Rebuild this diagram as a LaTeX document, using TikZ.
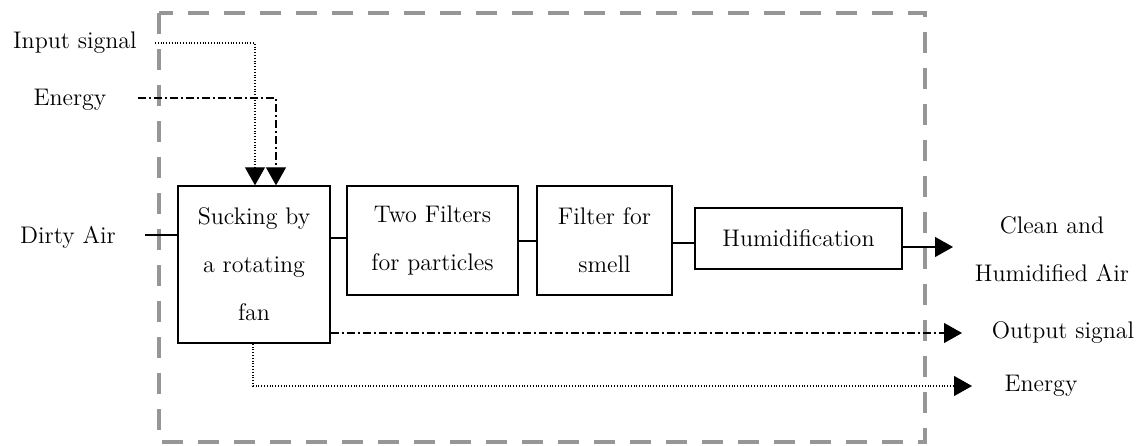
\documentclass[tikz,border=0pt]{standalone}
\usetikzlibrary{arrows.meta}
\definecolor{framegray}{RGB}{150,150,150}
\begin{document}
\begin{tikzpicture}[x=0.5pt,y=-0.5pt,
  every node/.style={font=\fontsize{12}{24}\selectfont, inner sep=0pt},
  block/.style={draw, line width=0.7pt, align=center, minimum width=#1},
  flow/.style={line width=0.6pt},
  tip/.style={-{Triangle[length=9pt,width=10pt]}},
  dotline/.style={line width=0.55pt, dash pattern=on 0.5pt off 0.9pt},
  dashdot/.style={line width=0.6pt, dash pattern=on 4pt off 1.5pt on 1pt off 1.5pt},
  label/.style={align=center}]
\useasboundingbox (0,0) rectangle (1146,445);

% system boundary
\draw[framegray, line width=2pt, dash pattern=on 10.5pt off 7.5pt] (159,13) rectangle (925,442);

% process blocks
\node[block=76pt, minimum height=78.5pt] (fan) at (254,264.5) {Sucking by\\a rotating\\fan};
\node[block=85.5pt, minimum height=54.5pt] (twof) at (432.5,240.5) {Two Filters\\for particles};
\node[block=67.5pt, minimum height=54.5pt] (smell) at (604.5,240.5) {Filter for\\smell};
\node[block=103.5pt, minimum height=30.5pt] (humid) at (798.5,238.5) {Humidification};

% external labels
\node[label] (insig) at (75,43) {Input signal};
\node[label] (enin) at (70,100) {Energy};
\node[label] (dirty) at (68,237) {Dirty Air};
\node[label] (clean) at (1052,249) {Clean and\\Humidified Air};
\node[label] (outsig) at (1063,333) {Output signal};
\node[label] (enout) at (1041,386) {Energy};

% connector end points
\coordinate (insigS) at (155,43);
\coordinate (eninS) at (138,98);
\coordinate (dirtyE) at (145,235);
\coordinate (cleanT) at (953,247);
\coordinate (outsigT) at (962,333);
\coordinate (enoutT) at (972,386);

% material flow
\draw[flow] (dirtyE) -- (fan.west |- dirtyE);
\draw[flow] (fan.east |- 0,238) -- (twof.west |- 0,238);
\draw[flow] (twof.east |- 0,241) -- (smell.west |- 0,241);
\draw[flow] (smell.east |- 0,243) -- (humid.west |- 0,243);
\draw[flow, tip] (humid.east |- cleanT) -- (cleanT);

% signal and energy inputs
\draw[dotline, tip] (insigS) -- (255,43) -- (fan.north -| 255,0);
\draw[dashdot, tip] (eninS) -- (276,98) -- (fan.north -| 276,0);

% signal and energy outputs
\draw[dashdot, tip] (fan.east |- outsigT) -- (outsigT);
\draw[dotline, tip] (fan.south -| 253,0) -- (253,386) -- (enoutT);
\end{tikzpicture}
\end{document}
